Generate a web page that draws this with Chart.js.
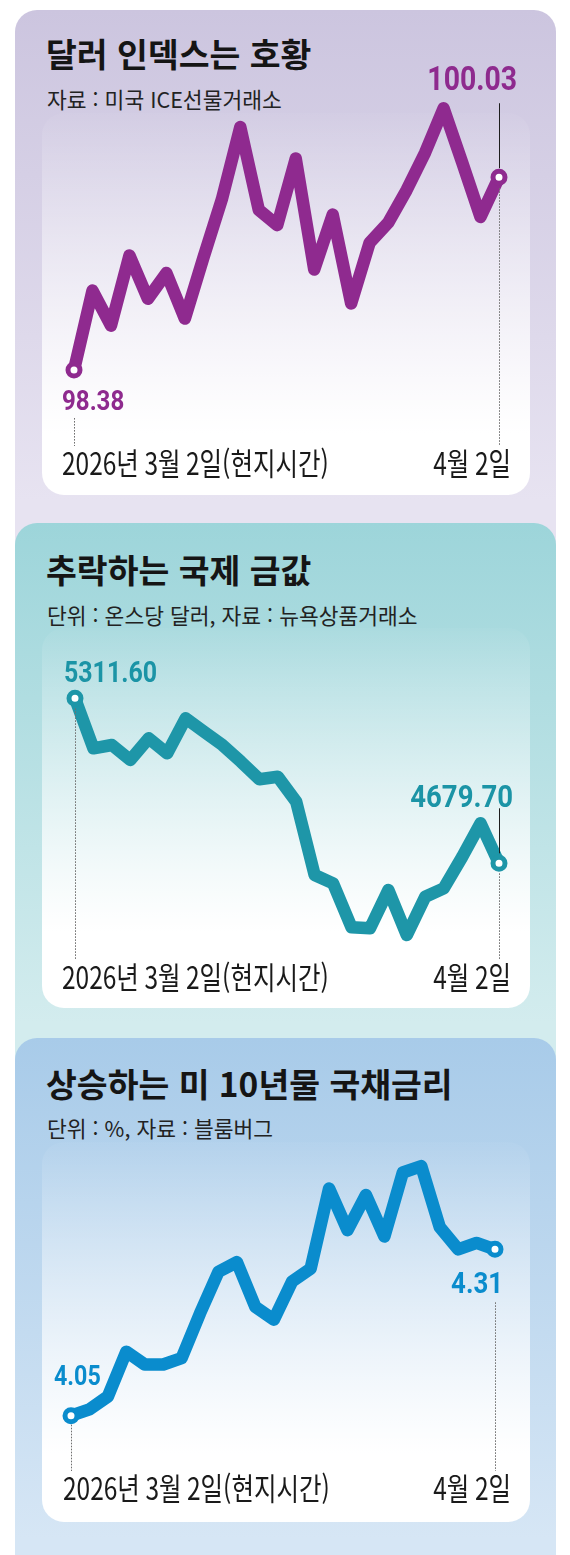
<!DOCTYPE html>
<html lang="ko">
<head>
<meta charset="utf-8">
<script src="https://cdn.jsdelivr.net/npm/chart.js@4.4.1/dist/chart.umd.min.js"></script>
<style>
  html, body { margin: 0; padding: 0; background: #fff; }
  body { width: 570px; height: 1555px; position: relative; overflow: hidden; font-family: "Noto Sans CJK KR", sans-serif; }
  .panel { position: absolute; left: 15px; width: 541px; border-radius: 22px 22px 0 0; }
  #p1 { top: 10px; height: 540px; background: linear-gradient(#ccc5df, #e7e3f1 490px); }
  #p2 { top: 523px; height: 540px; background: linear-gradient(#9dd5da, #d3ecee 500px); }
  #p3 { top: 1038px; height: 517px; background: linear-gradient(#a8cbe9, #d6e6f5 500px); }
  .card { position: absolute; left: 42px; width: 488px; border-radius: 22px; }
  #c1 { top: 113px; height: 382px; background: linear-gradient(rgba(255,255,255,0.03), #fff 84%); }
  #c2 { top: 628px; height: 380px; background: linear-gradient(rgba(255,255,255,0.03), #fff 80%); }
  #c3 { top: 1142px; height: 380px; background: linear-gradient(rgba(255,255,255,0.03), #fff 82%); }
  .title { position: absolute; left: 46px; font-size: 33.5px; font-weight: 700; line-height: 1; color: #151515; white-space: nowrap; }
  .sub { position: absolute; left: 47px; font-size: 21.5px; line-height: 1; color: #222; white-space: nowrap; }
  canvas { position: absolute; left: 0; }
</style>
</head>
<body>
<div class="panel" id="p1"></div>
<div class="panel" id="p2"></div>
<div class="panel" id="p3"></div>
<div class="card" id="c1"></div>
<div class="card" id="c2"></div>
<div class="card" id="c3"></div>

<div class="title" style="top:36px">달러 인덱스는 호황</div>
<div class="sub" style="top:88px">자료 : 미국 ICE선물거래소</div>
<div class="title" style="top:552px">추락하는 국제 금값</div>
<div class="sub" style="top:604px">단위 : 온스당 달러, 자료 : 뉴욕상품거래소</div>
<div class="title" style="top:1066px">상승하는 미 10년물 국채금리</div>
<div class="sub" style="top:1117px">단위 : %, 자료 : 블룸버그</div>

<canvas id="dollar-chart" width="570" height="510" style="top:0"></canvas>
<canvas id="gold-chart" width="570" height="520" style="top:510px"></canvas>
<canvas id="bond-chart" width="570" height="525" style="top:1030px"></canvas>

<script>
// trading days, 2026-03-02 .. 2026-04-02
const dates = ['3/2', '3/3', '3/4', '3/5', '3/6', '3/9', '3/10', '3/11', '3/12', '3/13',
  '3/16', '3/17', '3/18', '3/19', '3/20', '3/23', '3/24', '3/25', '3/26', '3/27',
  '3/30', '3/31', '4/1', '4/2'];

const dollarIndex = [98.38, 99.06, 98.76, 99.36, 98.99, 99.21, 98.82, 99.34, 99.84, 100.46,
  99.75, 99.62, 100.19, 99.24, 99.71, 98.95, 99.47, 99.64, 99.92, 100.24,
  100.62, 100.16, 99.69, 100.03];

const goldPrice = [5311.6, 5120.1, 5132.7, 5075.3, 5158.4, 5100.9, 5235.0, 5183.7, 5132.7, 5068.8,
  5001.4, 5011.3, 4915.6, 4634.8, 4603.0, 4434.6, 4430.6, 4577.4, 4405.0, 4551.7,
  4583.9, 4703.8, 4832.8, 4679.7];

const bondYield = [4.05, 4.06, 4.08, 4.15, 4.13, 4.13, 4.14, 4.21, 4.275, 4.29,
  4.22, 4.20, 4.26, 4.28, 4.405, 4.34, 4.395, 4.33, 4.43, 4.44,
  4.345, 4.31, 4.32, 4.31];

const startLabel = '2026년 3월 2일(현지시간)';
const endLabel = '4월 2일';

function squeezeText(ctx, text, x, y, sx, align) {
  ctx.save();
  ctx.translate(x, y);
  ctx.scale(sx, 1);
  ctx.textAlign = align;
  ctx.fillText(text, 0, 0);
  ctx.restore();
}

// value labels, leader lines and the two date labels
const endMarks = {
  id: 'endMarks',
  afterDatasetsDraw(chart, args, o) {
    const ctx = chart.ctx;
    const pts = chart.getDatasetMeta(0).data;
    const ends = { first: pts[0], last: pts[pts.length - 1] };
    const base = chart.chartArea.bottom + o.dateGap;
    const lineEnd = base - 29;
    ctx.save();
    o.leaders.forEach(l => {
      const p = ends[l.at];
      const x = Math.round(p.x) + 0.5;
      ctx.beginPath();
      ctx.lineWidth = 1;
      ctx.strokeStyle = l.dotted ? '#6f6f6f' : '#1e1e1e';
      ctx.setLineDash(l.dotted ? [1.6, 1.4] : []);
      ctx.moveTo(x, p.y + l.from);
      ctx.lineTo(x, l.to == null ? lineEnd : p.y + l.to);
      ctx.stroke();
    });
    ctx.setLineDash([]);
    ctx.fillStyle = o.color;
    ctx.textBaseline = 'alphabetic';
    o.labels.forEach(l => {
      const p = ends[l.at];
      ctx.font = `bold ${l.size}px Roboto`;
      squeezeText(ctx, l.text, p.x + l.dx, p.y + l.dy, 0.86, l.align);
    });
    ctx.fillStyle = '#1a1a1a';
    ctx.font = '400 31px "Noto Sans CJK KR"';
    squeezeText(ctx, startLabel, o.dateLeft, base, 0.79, 'left');
    squeezeText(ctx, endLabel, o.dateRight, base, 0.79, 'right');
    ctx.restore();
  }
};

function renderLine(id, values, color, yMin, yMax, padding, marks) {
  const canvas = document.getElementById(id);
  if (!canvas) return;
  const last = values.length - 1;
  new Chart(canvas, {
    type: 'line',
    data: {
      labels: dates,
      datasets: [{
        data: values,
        borderColor: color,
        borderWidth: 12.5,
        borderJoinStyle: 'round',
        borderCapStyle: 'round',
        tension: 0,
        clip: false,
        pointRadius: values.map((v, i) => (i === 0 || i === last) ? 6 : 0),
        pointHoverRadius: 0,
        pointBorderWidth: 5,
        pointBackgroundColor: '#fff',
        pointBorderColor: color,
      }],
    },
    options: {
      responsive: false,
      animation: false,
      events: [],
      layout: { padding },
      plugins: { legend: { display: false }, tooltip: { enabled: false }, endMarks: marks },
      scales: {
        x: { display: false },
        y: { display: false, min: yMin, max: yMax },
      },
    },
    plugins: [endMarks],
  });
}

renderLine('dollar-chart', dollarIndex, '#8f2a8f', 97.952, 100.52,
  { left: 74, right: 71, top: 120, bottom: 90 },
  {
    color: '#8e2a8e', dateGap: 55, dateLeft: 62, dateRight: 511,
    labels: [
      { at: 'first', text: '98.38', size: 28, dx: -12, dy: 40, align: 'left' },
      { at: 'last', text: '100.03', size: 33, dx: 18, dy: -87, align: 'right' },
    ],
    leaders: [
      { at: 'first', from: 48, dotted: true },
      { at: 'last', from: 11, dotted: true },
      { at: 'last', from: -74, to: -9, dotted: false },
    ],
  });

renderLine('gold-chart', goldPrice, '#1e96a8', 4347.7, 5496.6,
  { left: 75, right: 71, top: 140, bottom: 80 },
  {
    color: '#1b94a6', dateGap: 39, dateLeft: 62, dateRight: 511,
    labels: [
      { at: 'first', text: '5311.60', size: 29, dx: -11, dy: -16, align: 'left' },
      { at: 'last', text: '4679.70', size: 32, dx: 14, dy: -56, align: 'right' },
    ],
    leaders: [
      { at: 'first', from: 10, dotted: true },
      { at: 'last', from: 10, dotted: true },
      { at: 'last', from: -55, to: -10, dotted: false },
    ],
  });

renderLine('bond-chart', bondYield, '#0a8ccd', 3.9964, 4.4652,
  { left: 71, right: 75, top: 120, bottom: 105 },
  {
    color: '#0a8ccd', dateGap: 50, dateLeft: 63, dateRight: 511,
    labels: [
      { at: 'first', text: '4.05', size: 27, dx: -17, dy: -31, align: 'left' },
      { at: 'last', text: '4.31', size: 30, dx: 8, dy: 44, align: 'right' },
    ],
    leaders: [
      { at: 'first', from: 9, dotted: true },
      { at: 'last', from: 53, dotted: true },
    ],
  });
</script>
</body>
</html>
